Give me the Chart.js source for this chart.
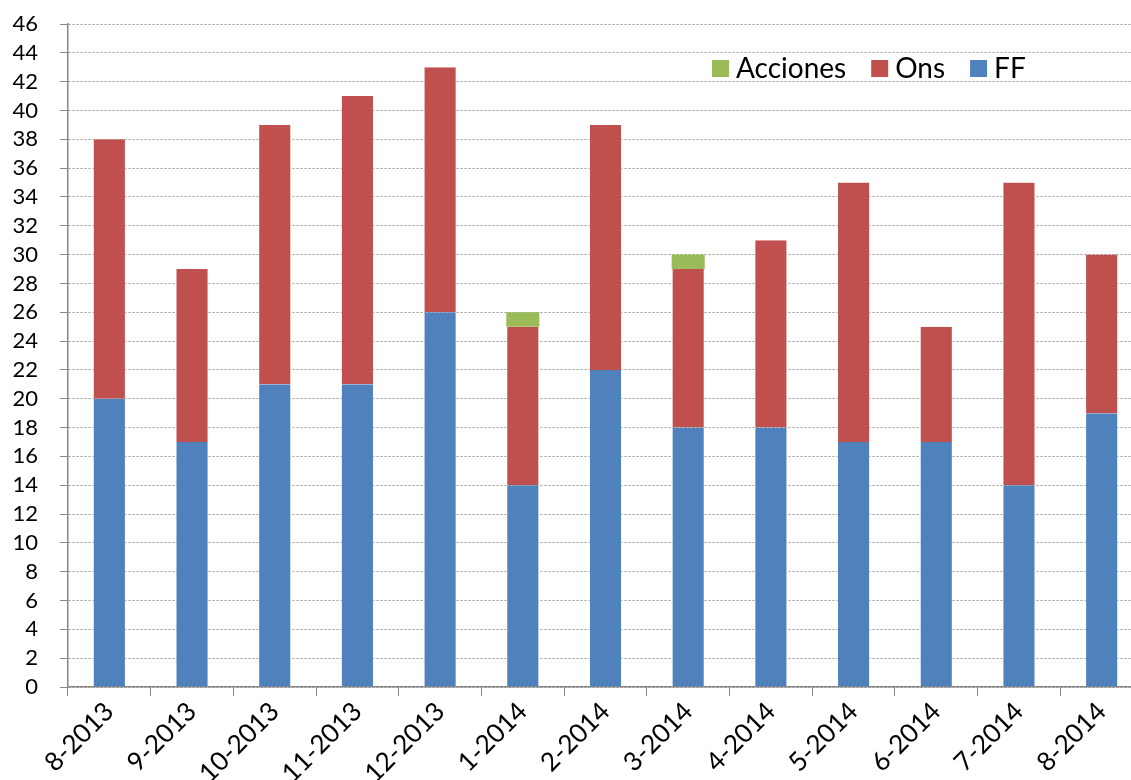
<!DOCTYPE html>
<html><head><meta charset="utf-8">
<script src="https://cdn.jsdelivr.net/npm/chart.js@4"></script>
<style>
html,body{margin:0;padding:0;background:#fff;overflow:hidden;}
#wrap{width:1143px;height:780px;position:relative;}
</style></head>
<body><div id="wrap"><canvas id="c"></canvas></div>
<script>
const categories = ['8-2013','9-2013','10-2013','11-2013','12-2013','1-2014','2-2014','3-2014','4-2014','5-2014','6-2014','7-2014','8-2014'];
const ffValues = [20,17,21,21,26,14,22,18,18,17,17,14,19];
const onsValues = [18,12,18,20,17,11,17,11,13,18,8,21,11];
const accionesValues = [0,0,0,0,0,1,0,1,0,0,0,0,0];
const yTicks = [0,2,4,6,8,10,12,14,16,18,20,22,24,26,28,30,32,34,36,38,40,42,44,46];

const FONT = 'Lato, "Open Sans", sans-serif';

const legendPlugin = {
  id: 'insideLegend',
  afterDraw(chart) {
    const ctx = chart.ctx;
    ctx.save();
    ctx.font = '28px ' + FONT;
    ctx.textBaseline = 'middle';
    let x = 712;
    const y = 68;
    const items = chart.data.datasets.slice().reverse();
    items.forEach(ds => {
      ctx.fillStyle = ds.backgroundColor;
      ctx.fillRect(x, y - 8, 17, 17);
      ctx.fillStyle = '#000';
      ctx.fillText(ds.label, x + 24, y + 1);
      x += 24 + ctx.measureText(ds.label).width + 25;
    });
    ctx.restore();
  }
};

const barOpts = {categoryPercentage: 1, barPercentage: 0.4, borderColor: 'rgba(255,255,255,0.45)', borderSkipped: false};

new Chart(document.getElementById('c'), {
  type: 'bar',
  data: {
    labels: categories,
    datasets: [
      Object.assign({label:'FF', data: ffValues, backgroundColor:'#4F81BD', borderWidth:{left:1,right:1}}, barOpts),
      Object.assign({label:'Ons', data: onsValues, backgroundColor:'#C0504D', borderWidth:{left:1,right:1}}, barOpts),
      Object.assign({label:'Acciones', data: accionesValues, backgroundColor:'#9BBB59', borderWidth:0}, barOpts)
    ]
  },
  options: {
    responsive: true,
    maintainAspectRatio: false,
    animation: false,
    layout: {padding: {top: 24, right: 0, left: 0, bottom: 0}},
    plugins: {legend: {display: false}, tooltip: {enabled: false}},
    scales: {
      x: {
        stacked: true,
        grid: {display: true, drawOnChartArea: false, drawTicks: true, tickLength: 9, color: '#888', offset: true},
        border: {display: true, color: '#888', width: 1.5},
        ticks: {font: {family: FONT, size: 26}, color: '#000', maxRotation: 45, minRotation: 45, padding: 0, autoSkip: false},
        afterFit(scale) { scale.height = 93; scale.paddingLeft = 0; scale.paddingRight = 0; }
      },
      y: {
        stacked: true,
        min: 0, max: 46,
        afterBuildTicks(scale) { scale.ticks = yTicks.map(v => ({value: v})); },
        grid: {color: '#999', lineWidth: 1, tickLength: 8, tickColor: '#888', tickBorderDash: []},
        border: {display: true, color: '#888', width: 1.5, dash: [2, 2]},
        ticks: {font: {family: FONT, size: 22}, color: '#000', padding: 22, autoSkip: false},
        afterFit(scale) { scale.width = 68; scale.paddingTop = 0; scale.paddingBottom = 0; }
      }
    }
  },
  plugins: [legendPlugin]
});
</script></body></html>
